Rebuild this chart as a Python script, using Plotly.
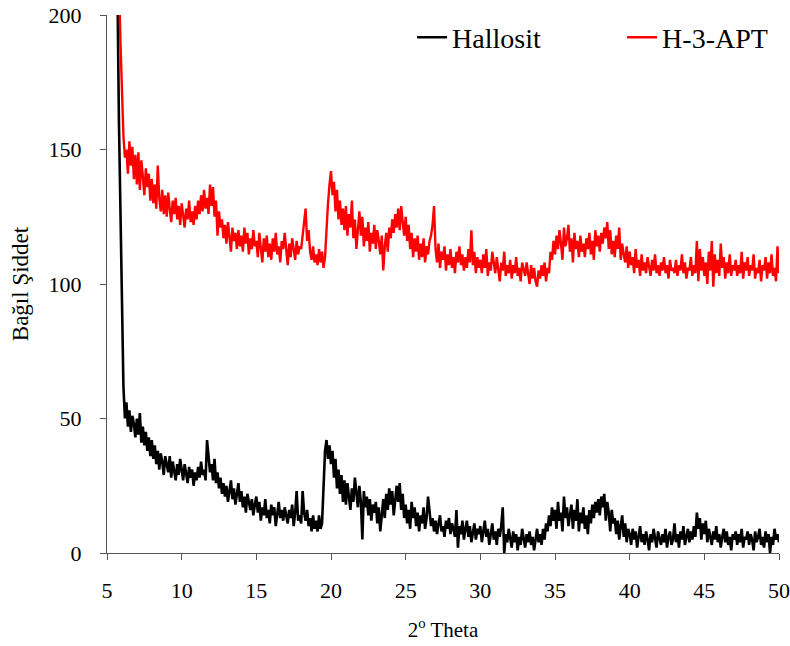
import plotly.graph_objects as go

# 2-theta sampling grid (degrees), 5.5 .. 50.0 in 0.1 steps
theta = [round(5.5 + 0.1 * i, 1) for i in range(446)]

hallosit = [
    420, 300, 210, 160, 125,
    92, 62, 50, 56, 47, 53, 45, 51, 48, 43,
    50, 44, 52, 41, 47, 40, 45, 38, 43, 36,
    42, 35, 40, 33, 38, 31, 37, 34, 29, 36,
    33, 30, 36, 28, 34, 31, 27, 33, 29, 35,
    30, 27, 33, 29, 26, 32, 28, 31, 25, 30,
    27, 32, 28, 34, 29, 31, 27, 42, 35, 30,
    33, 27, 35, 26, 30, 24, 28, 22, 26, 21,
    25, 19, 23, 27, 20, 24, 18, 22, 26, 19,
    23, 17, 21, 15, 22, 19, 16, 20, 14, 18,
    21, 15, 19, 12, 17, 14, 20, 13, 16, 11,
    18, 14, 17, 10, 15, 19, 13, 16, 12, 17,
    14, 11, 16, 13, 18, 10, 15, 23, 12, 14,
    11, 23, 15, 12, 16, 10, 13, 8, 14, 9,
    12, 8, 14, 9, 11, 25, 38, 42, 35, 40,
    33, 38, 28, 35, 24, 31, 22, 29, 19, 27,
    18, 26, 21, 16, 24, 19, 28, 22, 17, 25,
    19, 5, 23, 17, 21, 14, 20, 12, 18, 15,
    19, 11, 17, 8, 14, 20, 13, 22, 16, 24,
    18, 23, 14, 21, 25, 19, 26, 16, 22, 13,
    18, 11, 16, 9, 19, 13, 17, 10, 15, 8,
    14, 11, 17, 9, 13, 21, 15, 10, 13, 8,
    12, 7, 11, 14, 8, 10, 6, 12, 9, 13,
    7, 11, 9, 6, 16, 2, 10, 7, 12, 5,
    9, 12, 6, 10, 4, 8, 11, 5, 9, 7,
    10, 4, 8, 12, 6, 9, 3, 7, 11, 5,
    8, 3, 9, 6, 10, 17, 0, 7, 4, 9,
    5, 2, 8, 4, 7, 1, 6, 3, 9, 5,
    2, 7, 4, 8, 3, 6, 1, 5, 9, 4,
    7, 3, 9, 5, 11, 8, 14, 10, 17, 12,
    16, 9, 19, 12, 15, 8, 21, 13, 17, 10,
    14, 18, 9, 16, 12, 20, 8, 15, 11, 17,
    9, 14, 7, 16, 11, 18, 13, 19, 15, 20,
    14, 21, 17, 22, 12, 19, 15, 8, 16, 11,
    13, 7, 12, 5, 10, 14, 6, 11, 4, 9,
    7, 3, 9, 5, 8, 2, 6, 10, 4, 7,
    3, 8, 5, 1, 7, 4, 9, 6, 2, 8,
    5, 3, 7, 4, 9, 2, 6, 8, 3, 5,
    11, 4, 7, 2, 8, 5, 10, 3, 6, 9,
    4, 8, 5, 10, 6, 15, 9, 13, 5, 11,
    7, 12, 4, 9, 6, 3, 8, 5, 10, 4,
    7, 2, 6, 9, 4, 8, 3, 6, 1, 7,
    5, 8, 3, 7, 4, 9, 2, 6, 5, 8,
    3, 7, 5, 1, 8, 4, 6, 9, 3, 6,
    2, 8, 4, 7, 0, 6, 3, 9, 5, 7,
    4,
]

h3apt = [
    320, 280, 240, 212, 190,
    168, 155, 147, 150, 141, 153, 144, 151, 139, 148,
    137, 149, 135, 146, 140, 133, 143, 136, 141, 131,
    139, 130, 137, 128, 144, 132, 127, 135, 126, 133,
    125, 134, 128, 123, 131, 126, 132, 124, 129, 122,
    130, 125, 121, 128, 124, 131, 123, 127, 122, 129,
    124, 131, 126, 133, 127, 135, 128, 132, 126, 137,
    129, 136, 125, 131, 118, 127, 121, 124, 117, 122,
    115, 123, 118, 112, 121, 116, 119, 113, 120, 114,
    118, 112, 121, 115, 119, 111, 117, 113, 120, 114,
    116, 110, 119, 113, 108, 117, 112, 118, 110, 115,
    109, 117, 112, 119, 111, 114, 108, 116, 113, 119,
    112, 107, 115, 110, 117, 113, 109, 116, 111, 114,
    113, 118, 122, 128, 116, 120, 112, 109, 114, 108,
    111, 107, 113, 108, 112, 106, 110, 121, 130, 137,
    142, 133, 138, 127, 135, 124, 131, 122, 128, 120,
    129, 118, 126, 121, 131, 117, 124, 113, 122, 127,
    118, 125, 114, 121, 116, 123, 112, 119, 115, 122,
    113, 120, 116, 111, 118, 105, 114, 119, 112, 121,
    117, 124, 119, 126, 121, 128, 120, 129, 123, 118,
    125, 116, 122, 113, 119, 110, 117, 112, 118, 109,
    115, 110, 117, 108, 114, 111, 116, 118, 122, 129,
    113, 108, 115, 106, 112, 109, 114, 105, 111, 107,
    113, 106, 110, 104, 112, 108, 114, 107, 111, 105,
    110, 106, 113, 108, 120, 107, 112, 104, 110, 106,
    109, 104, 111, 106, 113, 103, 108, 105, 112, 107,
    104, 110, 106, 101, 108, 105, 112, 103, 107, 104,
    109, 102, 107, 104, 110, 103, 106, 101, 108, 105,
    103, 108, 104, 100, 107, 102, 106, 101, 99, 105,
    102, 107, 103, 108, 101, 106, 104, 112, 109, 116,
    111, 118, 113, 120, 115, 109, 121, 114, 117, 122,
    112, 117, 108, 119, 113, 116, 110, 118, 112, 115,
    110, 117, 113, 119, 111, 116, 109, 120, 114, 118,
    112, 119, 115, 121, 117, 123, 113, 120, 111, 116,
    110, 118, 113, 121, 109, 115, 111, 108, 114, 106,
    112, 107, 110, 104, 113, 106, 109, 103, 111, 105,
    108, 104, 110, 106, 103, 109, 105, 111, 104, 107,
    103, 108, 105, 110, 104, 107, 102, 109, 105, 106,
    104, 109, 103, 107, 105, 111, 104, 108, 102, 106,
    105, 110, 103, 107, 104, 116, 101, 113, 105, 110,
    103, 108, 100, 112, 105, 116, 99, 111, 104, 109,
    103, 115, 106, 110, 102, 108, 104, 111, 103, 107,
    105, 109, 103, 107, 104, 112, 102, 108, 105, 110,
    103, 107, 105, 111, 102, 106, 104, 109, 101, 107,
    105, 110, 102, 108, 104, 111, 103, 106, 101, 114,
    104,
]

x_ticks = [5, 10, 15, 20, 25, 30, 35, 40, 45, 50]
y_ticks = [0, 50, 100, 150, 200]

FONT = "Liberation Serif, Times New Roman, serif"

fig = go.Figure()
fig.add_trace(go.Scatter(x=theta, y=hallosit, mode="lines", name="Hallosit",
                         line=dict(color="black", width=2.6)))
fig.add_trace(go.Scatter(x=theta, y=h3apt, mode="lines", name="H-3-APT",
                         line=dict(color="#ff0000", width=2.4)))

fig.update_layout(
    width=790, height=646,
    margin=dict(l=107, r=11, t=15, b=93, autoexpand=False),
    paper_bgcolor="white", plot_bgcolor="white",
    font=dict(family=FONT, color="black", size=20),
    showlegend=True,
    legend=dict(orientation="h", x=0.454, xanchor="left", y=0.958, yanchor="middle",
                font=dict(family=FONT, size=28), bgcolor="rgba(0,0,0,0)",
                entrywidth=165, entrywidthmode="pixels", traceorder="normal"),
    xaxis=dict(range=[5, 50], tickvals=x_ticks, ticks="outside", ticklen=6,
               tickcolor="#555", showline=True, linecolor="#555", linewidth=1,
               showgrid=False, zeroline=False, tickfont=dict(size=22),
               ticklabelstandoff=12, automargin=False, ticklabeloverflow="allow",
               title=dict(text="2<sup>o</sup> Theta", font=dict(size=21), standoff=19)),
    yaxis=dict(range=[0, 200], tickvals=y_ticks, ticks="outside", ticklen=6,
               tickcolor="#555", showline=True, linecolor="#555", linewidth=1,
               showgrid=False, zeroline=False, tickfont=dict(size=22),
               ticklabelstandoff=14, automargin=False, ticklabeloverflow="allow",
               title=dict(text="Bağıl Şiddet", font=dict(size=23), standoff=13)),
)

# remove the page's default body margin so the figure sits at the window origin
fig.write_html("out.html", config={"displayModeBar": False},
               post_script="document.body.style.margin='0';")
